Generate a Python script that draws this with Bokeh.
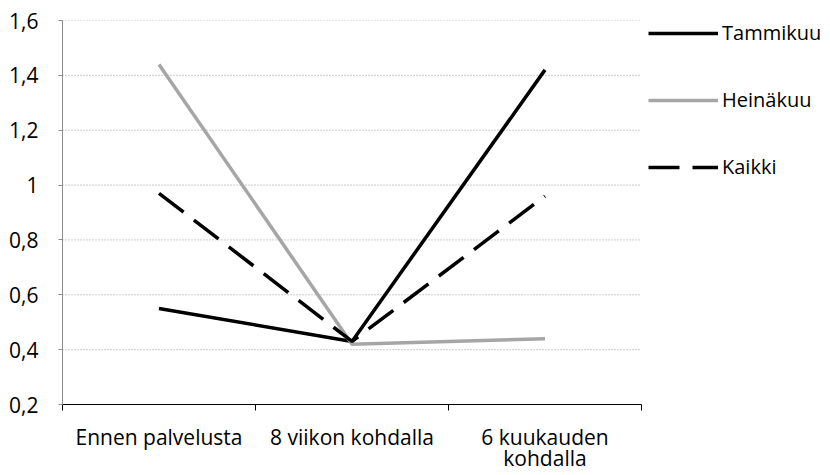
from bokeh.plotting import figure
from bokeh.models import (FixedTicker, Legend, LegendItem, Range1d, LinearAxis)
from bokeh.embed import file_html
from bokeh.resources import INLINE

categories = ["Ennen palvelusta", "8 viikon kohdalla", "6 kuukauden\nkohdalla"]
tammikuu = [0.55, 0.43, 1.42]
heinakuu = [1.44, 0.42, 0.44]
kaikki = [0.97, 0.43, 0.96]
series_names = ["Tammikuu", "Heinäkuu", "Kaikki"]
y_ticks = [0.2, 0.4, 0.6, 0.8, 1.0, 1.2, 1.4, 1.6]
y_tick_labels = ["0,2", "0,4", "0,6", "0,8", "1", "1,2", "1,4", "1,6"]

FONT = "Open Sans"
FS = "21px"

n = len(categories)
xs = [i + 0.5 for i in range(n)]
plot_px = 579.0          # width of the plotting area proper
frame_px = 830.0 - 62.0  # frame extends under the legend area
x_max = n * frame_px / plot_px

p = figure(width=830, height=475, output_backend="svg", toolbar_location=None,
           x_range=Range1d(0, x_max), y_range=Range1d(0.2, 1.6),
           x_axis_location=None, y_axis_location=None,
           min_border_left=62, min_border_right=0, min_border_top=20, min_border_bottom=69)
p.outline_line_color = None
p.background_fill_color = "white"
p.border_fill_color = "white"
p.xgrid.visible = False
p.ygrid.visible = False

# horizontal gridlines limited to the plotting area
p.segment(x0=[0] * len(y_ticks), x1=[n] * len(y_ticks), y0=y_ticks, y1=y_ticks,
          line_color="#9a9a9a", line_dash="1 2", line_width=1)

# y axis
yax = LinearAxis(ticker=FixedTicker(ticks=y_ticks, minor_ticks=[]),
                 major_label_overrides={t: l for t, l in zip(y_ticks, y_tick_labels)})
yax.axis_line_color = "#8c8c8c"
yax.major_tick_line_color = "#8c8c8c"
yax.major_tick_out = 4
yax.major_tick_in = 0
yax.minor_tick_line_color = None
yax.major_label_standoff = 20
yax.major_label_text_font = FONT
yax.major_label_text_font_size = FS
yax.major_label_text_color = "black"
p.add_layout(yax, "left")

# x axis
xax = LinearAxis(ticker=FixedTicker(ticks=xs, minor_ticks=list(range(n + 1))),
                 major_label_overrides={x: c for x, c in zip(xs, categories)},
                 bounds=(0, n))
xax.axis_line_color = "black"
xax.axis_line_width = 1
xax.major_tick_line_color = None
xax.minor_tick_line_color = "black"
xax.minor_tick_out = 6
xax.minor_tick_in = 0
xax.major_label_standoff = 12
xax.major_label_text_font = FONT
xax.major_label_text_font_size = FS
xax.major_label_text_color = "black"
xax.major_label_text_line_height = 0.78
p.add_layout(xax, "below")

r1 = p.line(xs, tammikuu, line_color="black", line_width=3.5)
r2 = p.line(xs, heinakuu, line_color="#a6a6a6", line_width=3.5)
r3 = p.line(xs, kaikki, line_color="black", line_width=3.5, line_dash="31 13")

legend = Legend(items=[LegendItem(label=series_names[0], renderers=[r1]),
                       LegendItem(label=series_names[1], renderers=[r2]),
                       LegendItem(label=series_names[2], renderers=[r3])],
                location=(586, 224), glyph_width=70, glyph_height=20, label_height=20,
                label_standoff=4, spacing=40, padding=0, margin=0,
                border_line_color=None, background_fill_alpha=0,
                label_text_font=FONT, label_text_font_size="20px", label_text_color="black")
p.add_layout(legend, "center")

open("out.html", "w").write(file_html(p, INLINE))
